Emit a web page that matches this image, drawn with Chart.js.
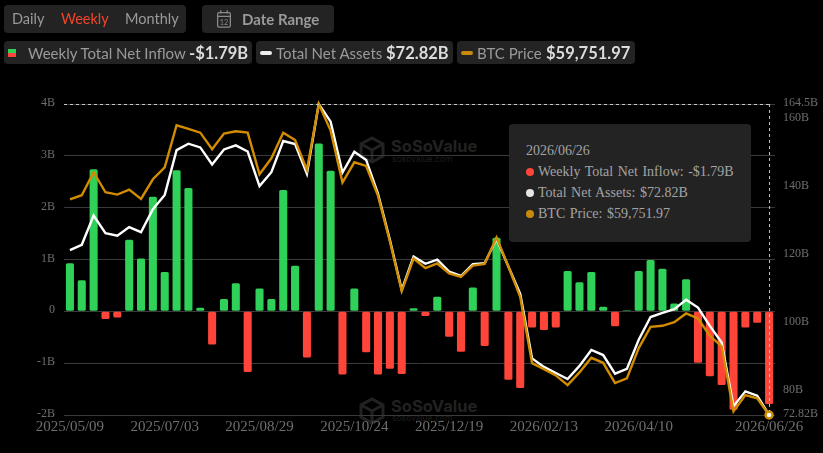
<!DOCTYPE html>
<html>
<head>
<meta charset="utf-8">
<script src="https://cdn.jsdelivr.net/npm/chart.js@4/dist/chart.umd.min.js"></script>
<style>
html, body { margin: 0; padding: 0; background: #000; width: 823px; height: 453px; overflow: hidden; }
canvas { position: absolute; left: 0; top: 0; }
.box { position: absolute; background: #232323; border-radius: 4px; }
.txt { position: absolute; white-space: nowrap; font-family: Lato, sans-serif; font-size: 14.5px; color: #9a9a9a; line-height: 20px; }
.leg { font-size: 15px; }
.val { font-weight: 700; color: #dcdcdc; font-size: 16.5px; }
.mark { position: absolute; }
.wm { position: absolute; white-space: nowrap; font-family: Inter, sans-serif; }
#tip { position: absolute; left: 509px; top: 124px; width: 242px; height: 118px; background: #232323; border-radius: 4px; font-family: "Liberation Serif", serif; font-size: 14px; word-spacing: 1px; color: #a3a3a3; }
#tip div { position: absolute; white-space: nowrap; line-height: 18px; }
#tip i { position: absolute; width: 8px; height: 8px; border-radius: 50%; }
</style>
</head>
<body>

<!-- marca d'agua fica atras do canvas -->
<svg class="mark" style="left:359px;top:136px" width="26" height="28" viewBox="0 0 26 28" fill="none" stroke="#222" stroke-width="3"><path d="M13 2 L24 8 V20 L13 26 L2 20 V8 Z M13 14 L24 8 M13 14 L2 8 M13 14 V26"/></svg>
<div class="wm" style="left:391px;top:136px;font-size:16.5px;font-weight:700;color:#222">SoSoValue</div>
<div class="wm" style="left:392px;top:154px;font-size:8.5px;color:#1e1e1e">sosovalue.com</div>
<svg class="mark" style="left:359px;top:397px" width="26" height="28" viewBox="0 0 26 28" fill="none" stroke="#222" stroke-width="3"><path d="M13 2 L24 8 V20 L13 26 L2 20 V8 Z M13 14 L24 8 M13 14 L2 8 M13 14 V26"/></svg>
<div class="wm" style="left:391px;top:396px;font-size:16.5px;font-weight:700;color:#222">SoSoValue</div>
<div class="wm" style="left:392px;top:413px;font-size:8.5px;color:#1e1e1e">sosovalue.com</div>

<canvas id="chart" width="823" height="453"></canvas>

<div class="box" style="left:4px;top:5px;width:182px;height:28px"></div>
<div class="txt" style="left:12px;top:9px">Daily</div>
<div class="txt" style="left:61px;top:9px;color:#f0452a">Weekly</div>
<div class="txt" style="left:125px;top:9px">Monthly</div>

<div class="box" style="left:202px;top:5px;width:132px;height:28px"></div>
<svg class="mark" style="left:215px;top:9px" width="18" height="20" viewBox="0 0 18 22" fill="none" stroke="#8a8a8a" stroke-width="1.4"><rect x="2" y="4" width="14" height="16" rx="1.5"/><path d="M2 8 H16 M5.5 1.5 V5 M12.5 1.5 V5"/><text x="9" y="17.5" font-size="8" font-family="Lato" fill="#8a8a8a" stroke="none" text-anchor="middle">12</text></svg>
<div class="txt" style="left:242px;top:9px;font-weight:700;font-size:15px">Date Range</div>

<div class="box" style="left:4px;top:41px;width:248px;height:23px"></div>
<div class="mark" style="left:8px;top:49px;width:8px;height:4px;background:#30d158"></div>
<div class="mark" style="left:8px;top:53px;width:8px;height:4px;background:#ff453a"></div>
<div class="txt leg" style="left:28px;top:43px">Weekly Total Net Inflow</div>
<div class="txt val" style="left:189px;top:43px">-$1.79B</div>

<div class="box" style="left:256px;top:41px;width:197px;height:23px"></div>
<div class="mark" style="left:260px;top:51px;width:12px;height:4px;border-radius:2px;background:#eee"></div>
<div class="txt leg" style="left:276px;top:43px">Total Net Assets</div>
<div class="txt val" style="left:386px;top:43px">$72.82B</div>

<div class="box" style="left:457px;top:41px;width:178px;height:23px"></div>
<div class="mark" style="left:461px;top:51px;width:12px;height:4px;border-radius:2px;background:#c98a0c"></div>
<div class="txt leg" style="left:477px;top:43px">BTC Price</div>
<div class="txt val" style="left:546px;top:43px">$59,751.97</div>

<div id="tip">
  <div style="left:17px;top:18px">2026/06/26</div>
  <i style="left:17px;top:44px;background:#ff453a"></i><div style="left:29px;top:39px">Weekly Total Net Inflow: -$1.79B</div>
  <i style="left:17px;top:65px;background:#e6e6e6"></i><div style="left:29px;top:60px">Total Net Assets: $72.82B</div>
  <i style="left:17px;top:86px;background:#c98a0c"></i><div style="left:29px;top:81px">BTC Price: $59,751.97</div>
</div>

<script>
// semanas
const categories = [
    '2025/05/09','2025/05/16','2025/05/23','2025/05/30','2025/06/06','2025/06/13','2025/06/20','2025/06/27',
    '2025/07/03','2025/07/11','2025/07/18','2025/07/25','2025/08/01','2025/08/08','2025/08/15','2025/08/22',
    '2025/08/29','2025/09/05','2025/09/12','2025/09/19','2025/09/26','2025/10/03','2025/10/10','2025/10/17',
    '2025/10/24','2025/10/31','2025/11/07','2025/11/14','2025/11/21','2025/11/28','2025/12/05','2025/12/12',
    '2025/12/19','2025/12/26','2026/01/02','2026/01/09','2026/01/16','2026/01/23','2026/01/30','2026/02/06',
    '2026/02/13','2026/02/20','2026/02/27','2026/03/06','2026/03/13','2026/03/20','2026/03/27','2026/04/03',
    '2026/04/10','2026/04/17','2026/04/24','2026/05/01','2026/05/08','2026/05/15','2026/05/22','2026/05/29',
    '2026/06/05','2026/06/12','2026/06/19','2026/06/26'
];
const xTickLabels = ['2025/05/09','2025/07/03','2025/08/29','2025/10/24','2025/12/19','2026/02/13','2026/04/10','2026/06/26'];

// fluxo semanal em bilhoes
const netInflow = [
    0.93, 0.60, 2.74, -0.15, -0.12, 1.38, 1.02, 2.21, 0.76, 2.72,
    2.38, 0.07, -0.64, 0.24, 0.54, -1.17, 0.44, 0.24, 2.34, 0.88,
    -0.89, 3.24, 2.71, -1.22, 0.44, -0.79, -1.22, -1.11, -1.21, 0.06,
    -0.09, 0.28, -0.49, -0.78, 0.46, -0.67, 1.42, -1.32, -1.48, -0.31,
    -0.36, -0.31, 0.78, 0.56, 0.76, 0.09, -0.29, 0.02, 0.78, 0.99,
    0.82, 0.15, 0.62, -0.99, -1.25, -1.42, -1.90, -0.31, -0.22, -1.79
];
// ativos liquidos em bilhoes
const netAssets = [
    121.4, 123.0, 131.6, 126.4, 125.7, 128.2, 126.7, 133.5, 137.7, 150.9,
    152.8, 151.7, 146.7, 151.1, 152.3, 150.5, 140.3, 144.4, 153.6, 152.7,
    143.9, 164.5, 159.3, 144.3, 150.4, 148.0, 138.0, 124.5, 109.7, 119.5,
    117.4, 118.6, 115.1, 113.8, 117.3, 117.6, 124.7, 116.6, 108.5, 89.5,
    87.0, 85.2, 83.4, 87.3, 92.0, 90.5, 85.0, 86.4, 95.0, 101.7,
    102.9, 104.0, 106.8, 104.5, 99.1, 94.2, 75.4, 79.8, 78.5, 72.82
];
const btcPrice = [
    104320, 105150, 109900, 105770, 105290, 106320, 104390, 108450, 110930, 119600,
    118840, 118080, 114640, 117880, 118360, 118080, 109480, 112790, 118080, 116570,
    110380, 124000, 118500, 107760, 111960, 111200, 105010, 95590, 85330, 92080,
    90080, 91050, 88980, 88290, 90630, 90980, 96410, 90430, 84100, 70470,
    69240, 67930, 65930, 68550, 71570, 70540, 66350, 67310, 73570, 77970,
    78180, 78940, 80730, 79690, 76120, 73910, 60500, 63870, 63180, 59751.97
];

const leftTicks = [-2, -1, 0, 1, 2, 3, 4];
const rightTicks = [72.82, 80, 100, 120, 140, 160, 164.5];

const GREEN = '#30d158';
const RED = '#ff453a';
const lastIndex = categories.length - 1;

// linhas tracejadas do ponteiro
const crosshair = {
    id: 'crosshair',
    afterDatasetsDraw(chart) {
        const { ctx, scales } = chart;
        const px = scales.x.getPixelForValue(lastIndex);
        const top = scales.y.getPixelForValue(4);
        const bottom = scales.y.getPixelForValue(-2);
        ctx.save();
        ctx.strokeStyle = '#c8c8c8';
        ctx.lineWidth = 1;
        ctx.setLineDash([3, 3]);
        ctx.beginPath();
        ctx.moveTo(scales.x.left, top + 0.5);
        ctx.lineTo(px, top + 0.5);
        ctx.moveTo(px + 0.5, top);
        ctx.lineTo(px + 0.5, bottom - 4);
        ctx.stroke();
        ctx.restore();
    }
};

new Chart(document.getElementById('chart').getContext('2d'), {
    data: {
        labels: categories,
        datasets: [
            {
                type: 'line',
                label: 'BTC Price',
                data: btcPrice,
                yAxisID: 'yBtc',
                borderColor: '#d18c00',
                borderWidth: 2.4,
                tension: 0,
                clip: false,
                order: 1,
                pointRadius: c => c.dataIndex === lastIndex ? 3.5 : 0,
                pointBackgroundColor: '#fff',
                pointBorderColor: '#d18c00',
                pointBorderWidth: 2.5
            },
            {
                type: 'line',
                label: 'Total Net Assets',
                data: netAssets,
                yAxisID: 'yAssets',
                borderColor: '#ffffff',
                borderWidth: 2.4,
                tension: 0,
                clip: false,
                order: 2,
                pointRadius: 0
            },
            {
                type: 'bar',
                label: 'Weekly Total Net Inflow',
                data: netInflow,
                yAxisID: 'y',
                backgroundColor: netInflow.map(v => v >= 0 ? GREEN : RED),
                barPercentage: 0.68,
                categoryPercentage: 1,
                borderRadius: 1.5,
                borderSkipped: false,
                order: 3
            }
        ]
    },
    options: {
        responsive: false,
        animation: false,
        events: [],
        layout: { padding: { top: 104, left: 0, right: 0, bottom: 0 } },
        plugins: { legend: { display: false }, tooltip: { enabled: false } },
        scales: {
            x: {
                offset: true,
                grid: { display: false, drawTicks: false },
                border: { display: false },
                afterFit(s) { s.height = 38; },
                ticks: {
                    autoSkip: false,
                    maxRotation: 0,
                    padding: 3,
                    color: '#6e6e6e',
                    font: { family: 'Liberation Serif', size: 15 },
                    callback(v) {
                        const label = categories[v];
                        return xTickLabels.includes(label) ? label : '';
                    }
                }
            },
            y: {
                position: 'left',
                min: -2,
                max: 4,
                afterBuildTicks(s) { s.ticks = leftTicks.map(v => ({ value: v })); },
                afterFit(s) { s.width = 64; },
                grid: { color: '#3a3a3a', drawTicks: false },
                border: { display: false },
                ticks: {
                    padding: 9,
                    labelOffset: -1,
                    color: '#6e6e6e',
                    font: { family: 'Liberation Serif', size: 12 },
                    callback: v => v === 0 ? '0' : v + 'B'
                }
            },
            yAssets: {
                position: 'right',
                min: 72.82,
                max: 164.5,
                afterBuildTicks(s) { s.ticks = rightTicks.map(v => ({ value: v })); },
                afterFit(s) { s.width = 48; },
                grid: { display: false, drawTicks: false },
                border: { display: false },
                ticks: {
                    padding: 8,
                    labelOffset: -1,
                    color: '#6e6e6e',
                    font: { family: 'Liberation Serif', size: 12 },
                    callback: v => v + 'B'
                }
            },
            yBtc: {
                display: false,
                min: 59751.97,
                max: 124000
            }
        }
    },
    plugins: [crosshair]
});
</script>
</body>
</html>
